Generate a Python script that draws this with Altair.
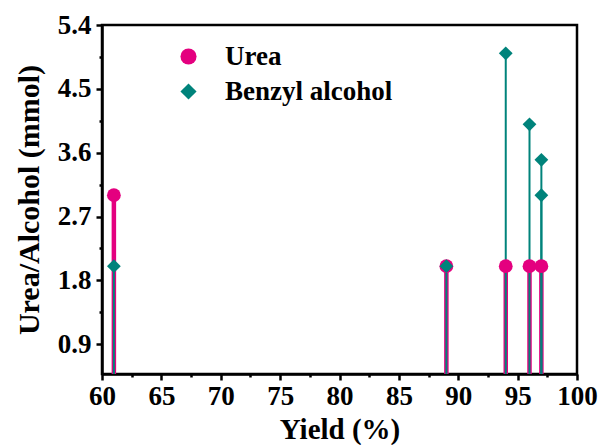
import altair as alt
import pandas as pd

# ---- data ----
urea_yield = [61, 89, 94, 96, 97]
urea_amount = [3.0, 2.0, 2.0, 2.0, 2.0]
benzyl_yield = [61, 89, 94, 96, 97, 97]
benzyl_amount = [2.0, 2.0, 5.0, 4.0, 3.5, 3.0]
series_names = ["Urea", "Benzyl alcohol"]

x_major = [60, 65, 70, 75, 80, 85, 90, 95, 100]
x_minor = [62.5, 67.5, 72.5, 77.5, 82.5, 87.5, 92.5, 97.5]
y_major = [0.9, 1.8, 2.7, 3.6, 4.5, 5.4]
y_minor = [1.35, 2.25, 3.15, 4.05, 4.95]
X_DOMAIN = [60, 100]
Y_DOMAIN = [0.48, 5.4]

MAGENTA = "#E4007F"
TEAL = "#00837B"
FONT = "Liberation Serif"

rows = []
for x, y in zip(urea_yield, urea_amount):
    rows.append({"series": series_names[0], "yield": x, "amount": y})
for x, y in zip(benzyl_yield, benzyl_amount):
    rows.append({"series": series_names[1], "yield": x, "amount": y})
df = pd.DataFrame(rows)

base = alt.Chart(df)

xs = alt.Scale(domain=X_DOMAIN, nice=False, zero=False)
ys = alt.Scale(domain=Y_DOMAIN, nice=False, zero=False)

main_x_axis = alt.Axis(values=x_major, orient="bottom", title="Yield (%)", tickSize=6,
                       labelPadding=3, titlePadding=6, grid=False,
                       labelFlush=False, labelOverlap=False)
main_y_axis = alt.Axis(values=y_major, orient="left", format=".1f",
                       title="Urea/Alcohol (mmol)", titleFontSize=30, tickSize=6,
                       labelPadding=5, titlePadding=13, grid=False,
                       labelFlush=False, labelOverlap=False)
minor_x_axis = alt.Axis(values=x_minor, orient="bottom", labels=False, title=None,
                        tickSize=3, domain=False, grid=False)
minor_y_axis = alt.Axis(values=y_minor, orient="left", labels=False, title=None,
                        tickSize=3, domain=False, grid=False)

urea_rules = base.transform_filter(alt.datum.series == series_names[0]).mark_rule(
    color=MAGENTA, strokeWidth=4.5
).encode(
    x=alt.X("yield:Q", scale=xs, axis=main_x_axis),
    y=alt.Y("amount:Q", scale=ys, axis=main_y_axis),
    y2=alt.datum(Y_DOMAIN[0]),
)

benzyl_rules = base.transform_filter(alt.datum.series == series_names[1]).mark_rule(
    color=TEAL, strokeWidth=2
).encode(
    x=alt.X("yield:Q", scale=xs, axis=None),
    y=alt.Y("amount:Q", scale=ys, axis=None),
    y2=alt.datum(Y_DOMAIN[0]),
)

legend = alt.Legend(
    title=None, orient="none", legendX=73, legendY=18,
    labelFont=FONT, labelFontSize=27, labelFontWeight="bold", labelColor="black",
    labelLimit=0,
    symbolSize=260, symbolStrokeWidth=0, symbolOpacity=1, rowPadding=7,
    labelOffset=23,
)

points = base.mark_point(filled=True, size=190, opacity=1).encode(
    x=alt.X("yield:Q", scale=xs, axis=minor_x_axis),
    y=alt.Y("amount:Q", scale=ys, axis=minor_y_axis),
    color=alt.Color("series:N", scale=alt.Scale(domain=series_names, range=[MAGENTA, TEAL]),
                    legend=legend),
    shape=alt.Shape("series:N", scale=alt.Scale(domain=series_names, range=["circle", "diamond"]),
                    legend=legend),
    order=alt.Order("idx:Q"),
).transform_calculate(idx="datum.series == 'Urea' ? 0 : 1")

chart = alt.layer(urea_rules, benzyl_rules, points).resolve_axis(
    x="independent", y="independent"
).properties(
    width=475, height=349,
    background="white",
    autosize=alt.AutoSizeParams(type="none"),
    padding={"left": 102, "top": 25, "right": 24, "bottom": 71},
).configure_view(
    stroke="black", strokeWidth=2.5
).configure_axis(
    domainColor="black", domainWidth=2.5, tickColor="black", tickWidth=2.5,
    labelFont=FONT, labelFontSize=27, labelFontWeight="bold", labelColor="black",
    titleFont=FONT, titleFontSize=29, titleFontWeight="bold", titleColor="black",
)

chart.save("out.html", embed_options={"renderer": "svg", "actions": False})
